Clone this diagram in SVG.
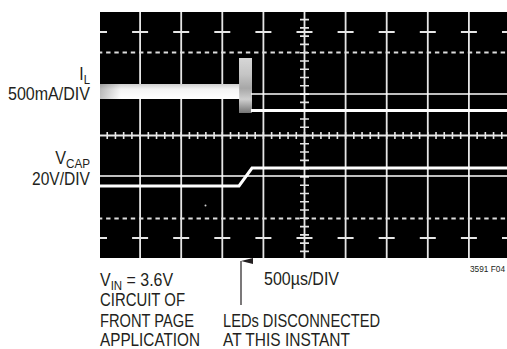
<svg xmlns="http://www.w3.org/2000/svg" width="507" height="349" viewBox="0 0 507 349">
  <style>
    .t { font-family: "Liberation Sans", Arial, sans-serif; font-size: 18px; fill: #231f20; }
    .sub { font-size: 13px; }
    .g { stroke: #e6e6e6; stroke-width: 1.8; fill: none; }
    .tr { stroke: #ffffff; fill: none; }
  </style>
  <defs>
    <clipPath id="scr"><rect x="100" y="12" width="407" height="246"/></clipPath>
    <linearGradient id="band" x1="0" y1="0" x2="0" y2="1">
      <stop offset="0" stop-color="#cfcfcf"/>
      <stop offset="0.35" stop-color="#f4f4f4"/>
      <stop offset="1" stop-color="#ffffff"/>
    </linearGradient>
    <linearGradient id="bandx" x1="0" y1="0" x2="1" y2="0">
      <stop offset="0" stop-color="#000" stop-opacity="0.25"/>
      <stop offset="0.15" stop-color="#000" stop-opacity="0"/>
    </linearGradient>
    <linearGradient id="blk" x1="0" y1="0" x2="0" y2="1">
      <stop offset="0" stop-color="#e2e2e2"/>
      <stop offset="0.3" stop-color="#cfcfcf"/>
      <stop offset="0.55" stop-color="#b0b0b0"/>
      <stop offset="0.75" stop-color="#dadada"/>
      <stop offset="1" stop-color="#7a7a7a"/>
    </linearGradient>
    <marker id="ah" viewBox="0 0 6 12" refX="3" refY="0" markerWidth="6" markerHeight="12" markerUnits="userSpaceOnUse" orient="auto-start-reverse">
      <path d="M3,0 L6,12 L0,12 Z" fill="#231f20"/>
    </marker>
  </defs>

  <g id="screen" clip-path="url(#scr)">
    <rect x="100" y="12" width="407" height="246" fill="#000"/>
    <!-- vertical grid lines -->
    <path class="g" d="M140.1,12V258 M181.2,12V258 M222.3,12V258 M263.4,12V258 M304.5,12V258 M345.6,12V258 M386.7,12V258 M427.8,12V258 M468.9,12V258"/>
    <!-- centre horizontal axis -->
    <path class="g" d="M100,135.5H507"/>
    <path d="M99,135.5H512" stroke="#e6e6e6" stroke-width="7" stroke-dasharray="1.6 6.62" stroke-dashoffset="0.8" fill="none"/>
    <!-- centre vertical axis ticks -->
    <path d="M304.5,11.3V262" stroke="#e6e6e6" stroke-width="9" stroke-dasharray="1.6 6.68" stroke-dashoffset="0.8" fill="none"/>
    <!-- dashed lines -->
    <path d="M97.9,52.5H512 M97.9,218.5H512" stroke="#dcdcdc" stroke-width="2" stroke-dasharray="4.4 3.82" fill="none"/>
    <!-- cross bars -->
    <path d="M91,32H520 M91,238H520" stroke="#e6e6e6" stroke-width="2" stroke-dasharray="16 25.1" fill="none"/>

    <!-- I_L trace -->
    <rect x="100" y="84" width="140" height="15" fill="url(#band)"/>
    <rect x="100" y="84" width="140" height="15" fill="url(#bandx)"/>
    <rect x="239" y="58" width="13" height="55" fill="url(#blk)" opacity="0.95"/>
    <path class="tr" d="M251,94H507" stroke-width="1.4"/>
    <path class="tr" d="M251,110.5H507" stroke-width="3"/>

    <!-- V_CAP trace -->
    <path class="tr" d="M100,176H507" stroke-width="1.6"/>
    <path class="tr" d="M100,186H239L252,168H507" stroke-width="3"/>

    <circle cx="205.5" cy="205.5" r="1" fill="#cfcfcf"/>
  </g>

  <g id="labels-left">
    <text class="t" text-anchor="end" transform="translate(90,80) scale(0.87,1)">I<tspan class="sub" dy="4">L</tspan></text>
    <text class="t" x="8" y="100" textLength="82" lengthAdjust="spacingAndGlyphs">500mA/DIV</text>
    <text class="t" text-anchor="end" transform="translate(90,164) scale(0.9,1)">V<tspan class="sub" dy="4">CAP</tspan></text>
    <text class="t" x="32" y="185" textLength="58" lengthAdjust="spacingAndGlyphs">20V/DIV</text>
  </g>

  <g id="labels-bottom">
    <text class="t" transform="translate(100,286) scale(0.885,1)">V<tspan class="sub" dy="4">IN</tspan><tspan dy="-4"> = 3.6V</tspan></text>
    <text class="t" x="100" y="306" textLength="85" lengthAdjust="spacingAndGlyphs">CIRCUIT OF</text>
    <text class="t" x="100" y="326.5" textLength="94" lengthAdjust="spacingAndGlyphs">FRONT PAGE</text>
    <text class="t" x="100" y="346" textLength="100" lengthAdjust="spacingAndGlyphs">APPLICATION</text>
    <text class="t" x="264" y="285" textLength="75" lengthAdjust="spacingAndGlyphs">500µs/DIV</text>
    <text class="t" x="223" y="326.5" textLength="157" lengthAdjust="spacingAndGlyphs">LEDs DISCONNECTED</text>
    <text class="t" x="223" y="346" textLength="127" lengthAdjust="spacingAndGlyphs">AT THIS INSTANT</text>
    <text x="470" y="272" textLength="35" lengthAdjust="spacingAndGlyphs" style="font-family:'Liberation Sans',Arial,sans-serif;font-size:9px;fill:#231f20">3591 F04</text>
  </g>

  <g id="connectors">
    <path d="M241,305V261" stroke="#231f20" stroke-width="1.2" fill="none" marker-end="url(#ah)"/>
  </g>
</svg>
